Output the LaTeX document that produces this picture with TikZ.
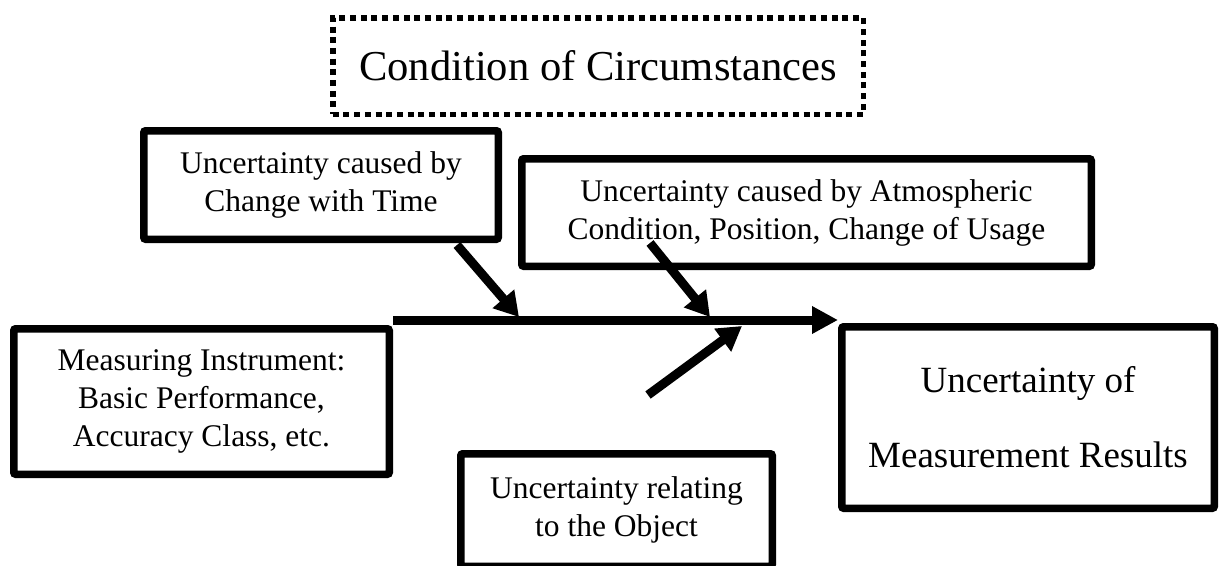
\documentclass[tikz,border=0pt]{standalone}
\usepackage{fontspec}
\setmainfont{Liberation Serif}
\usetikzlibrary{arrows.meta}
\begin{document}
\begin{tikzpicture}[x=1pt,y=-1pt,
  box/.style={draw, line width=7.5pt, rounded corners=2pt, align=center,
    inner sep=0pt, font=\fontsize{31.5}{38}\selectfont},
  bigbox/.style={box, font=\fontsize{37}{75}\selectfont},
  dotbox/.style={draw, line width=5.5pt, dash pattern=on 6pt off 4.7pt,
    align=center, inner sep=0pt, font=\fontsize{42.6}{50}\selectfont},
  link/.style={line width=9pt, -{Triangle[length=24pt,width=27pt]}},
]
\useasboundingbox (0,0) rectangle (1222,565);

% cause and effect boxes
\node[dotbox, minimum width=530.5pt, minimum height=96.5pt] (cond) at (598,66)
  {Condition of Circumstances};
\node[box, minimum width=354.5pt, minimum height=108.5pt] (time) at (321,185)
  {Uncertainty caused by\\Change with Time};
\node[box, minimum width=569.5pt, minimum height=107.5pt] (atmo) at (806.5,212.5)
  {Uncertainty caused by Atmospheric\\Condition, Position, Change of Usage};
\node[box, minimum width=375.5pt, minimum height=145.5pt] (meas) at (201.5,401.5)
  {Measuring Instrument:\\Basic Performance,\\Accuracy Class, etc.};
\node[bigbox, minimum width=372.5pt, minimum height=181.5pt] (umr) at (1028,417.5)
  {Uncertainty of\\Measurement Results};
\node[box, minimum width=311.5pt, minimum height=112.5pt] (obj) at (616.5,510)
  {Uncertainty relating\\to the Object};

% spine and branch points
\coordinate (s0) at (393,320);
\coordinate (s1) at (838,320);
\coordinate (a1) at (457,245);
\coordinate (h1) at (519,317);
\coordinate (a2) at (650,243);
\coordinate (h2) at (710,317);
\coordinate (a3) at (648,395);
\coordinate (h3) at (742,326);

\draw[link, -{Triangle[length=26pt,width=26pt]}] (s0) -- (s1);
\draw[link] (a1) -- (h1);
\draw[link] (a2) -- (h2);
\draw[link] (a3) -- (h3);
\end{tikzpicture}
\end{document}
